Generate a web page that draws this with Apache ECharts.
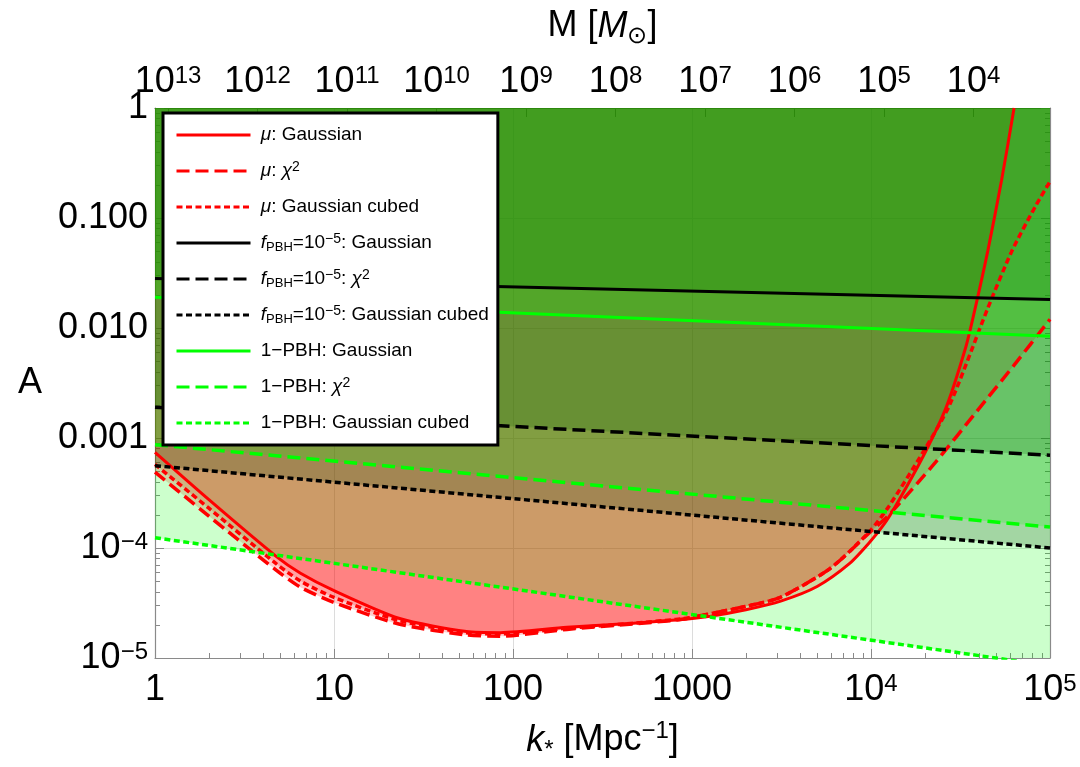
<!DOCTYPE html>
<html>
<head>
<meta charset="utf-8">
<script src="https://cdn.jsdelivr.net/npm/echarts@6/dist/echarts.min.js"></script>
<style>
  html, body { margin: 0; padding: 0; background: #fff; }
  #chart { width: 1080px; height: 767px; }
</style>
</head>
<body>
<div id="chart"></div>
<script>
const FONT = '"Liberation Sans", Arial, Helvetica, sans-serif'

// k_* [Mpc^-1] / A read off the figure
// mu distortion bounds
const muGaussK = [1, 2, 4.75, 6.5, 10, 23, 55, 85, 200, 470, 810, 1260, 2000, 3160, 5000, 7600, 9800, 11750, 13800, 19500, 26300, 33900, 37600, 44900, 53600, 63000]
const muGaussA = [7.4e-4, 2.75e-4, 8.4e-5, 5.9e-5, 4.1e-5, 2.3e-5, 1.74e-5, 1.7e-5, 1.9e-5, 2.07e-5, 2.21e-5, 2.4e-5, 2.75e-5, 3.31e-5, 4.47e-5, 7.24e-5, 1.12e-4, 1.62e-4, 2.45e-4, 6.76e-4, 1.9e-3, 6.76e-3, 0.0135, 0.050, 0.219, 1]
const muChi2K = [1, 2, 4.75, 6.5, 10, 23, 55, 85, 200, 470, 810, 1000, 2000, 3100, 5900, 9800, 12600, 22900, 38900, 63000, 100000]
const muChi2A = [4.9e-4, 1.95e-4, 6.3e-5, 4.4e-5, 3.2e-5, 2.04e-5, 1.62e-5, 1.58e-5, 1.82e-5, 2.04e-5, 2.21e-5, 2.34e-5, 2.95e-5, 3.55e-5, 6.5e-5, 1.38e-4, 2.0e-4, 6.0e-4, 1.74e-3, 4.6e-3, 0.012]
const muCubedK = [1, 2, 4.75, 6.5, 10, 23, 55, 85, 200, 470, 810, 1000, 2000, 3100, 5900, 9800, 12600, 19500, 27500, 44900, 61200, 83200, 100000]
const muCubedA = [5.75e-4, 2.3e-4, 7.2e-5, 5.0e-5, 3.55e-5, 2.2e-5, 1.7e-5, 1.66e-5, 1.86e-5, 2.07e-5, 2.24e-5, 2.34e-5, 2.95e-5, 3.55e-5, 6.5e-5, 1.41e-4, 2.4e-4, 7.4e-4, 2.0e-3, 0.0151, 0.050, 0.129, 0.214]

// power-law bounds, values at k = 1 and k = 1e5
const edgeK = [1, 1e5]
const fGaussA = [0.0282, 0.0182]
const fChi2A = [1.90e-3, 6.98e-4]
const fCubedA = [5.6e-4, 1.0e-4]
const pbhGaussA = [0.0190, 0.0084]
const pbhChi2A = [8.7e-4, 1.55e-4]
const pbhCubedA = [1.24e-4, 8.5e-6]

// tick labels (log10 of the value -> text)
const xTickText = ['1', '10', '100', '1000', '10{sup|4}', '10{sup|5}']
const yTickText = ['10{sup|−5}', '10{sup|−4}', '0.001', '0.010', '0.100', '1']
// top axis: M [M_sun], log10 M = massOffset - 2 log10 k
const massExponents = [13, 12, 11, 10, 9, 8, 7, 6, 5, 4]
const massOffset = 13.146

const RED = '#ff0000', BLACK = '#000000', GREEN = '#00ff00'
const SOLID = 'solid', DASHED = [13, 6], DOTTED = [6, 3.5]

const curves = [
  { name: 'mu_gauss', k: muGaussK, a: muGaussA, color: RED, dash: SOLID, label: '{it|μ}: Gaussian' },
  { name: 'mu_chi2', k: muChi2K, a: muChi2A, color: RED, dash: DASHED, label: '{it|μ}: {it|χ}{sup|2}' },
  { name: 'mu_cubed', k: muCubedK, a: muCubedA, color: RED, dash: DOTTED, label: '{it|μ}: Gaussian cubed' },
  { name: 'f_gauss', k: edgeK, a: fGaussA, color: BLACK, dash: SOLID, label: '{it|f}{sub|PBH}=10{sup|−5}: Gaussian' },
  { name: 'f_chi2', k: edgeK, a: fChi2A, color: BLACK, dash: DASHED, label: '{it|f}{sub|PBH}=10{sup|−5}: {it|χ}{sup|2}' },
  { name: 'f_cubed', k: edgeK, a: fCubedA, color: BLACK, dash: DOTTED, label: '{it|f}{sub|PBH}=10{sup|−5}: Gaussian cubed' },
  { name: 'pbh_gauss', k: edgeK, a: pbhGaussA, color: GREEN, dash: SOLID, label: '1−PBH: Gaussian' },
  { name: 'pbh_chi2', k: edgeK, a: pbhChi2A, color: GREEN, dash: DASHED, label: '1−PBH: {it|χ}{sup|2}' },
  { name: 'pbh_cubed', k: edgeK, a: pbhCubedA, color: GREEN, dash: DOTTED, label: '1−PBH: Gaussian cubed' }
]

function logPoints(ks, as) {
  return ks.map((k, i) => [Math.log10(k), Math.log10(as[i])])
}

function minorTicks(from, to) {
  let out = []
  for (let d = from; d < to; d++) {
    for (let m = 2; m <= 9; m++) out.push(d + Math.log10(m))
  }
  return out
}

const legendText = {}
curves.forEach(c => { legendText[c.name] = c.label })

// fills first (everything above each bound, 20% opacity), lines on top
let series = []
curves.forEach(c => {
  series.push({
    name: c.name + '_fill',
    type: 'line',
    data: logPoints(c.k, c.a),
    smooth: c.k.length > 2 ? 0.25 : false,
    symbol: 'none',
    silent: true,
    z: 1,
    lineStyle: { width: 0, opacity: 0 },
    areaStyle: { color: c.color, opacity: 0.2, origin: 'end' }
  })
})
curves.forEach(c => {
  series.push({
    name: c.name,
    type: 'line',
    data: logPoints(c.k, c.a),
    smooth: c.k.length > 2 ? 0.25 : false,
    symbol: 'none',
    z: 3,
    itemStyle: { color: c.color },
    lineStyle: { color: c.color, width: c.dash === SOLID ? 3 : 3.5, type: c.dash }
  })
})

const axisGrey = '#8a8a8a'
const tickRich = { sup: { fontSize: 24, lineHeight: 20, verticalAlign: 'top', fontFamily: FONT, color: '#000' } }

const options = {
  animation: false,
  backgroundColor: '#fff',
  grid: { left: 155, right: 30, top: 104, bottom: 107 },
  legend: {
    data: curves.map(c => c.name),
    orient: 'vertical',
    left: 163,
    top: 113,
    z: 10,
    selectedMode: false,
    backgroundColor: '#fff',
    borderColor: '#000',
    borderWidth: 3,
    borderRadius: 0,
    padding: [11, 9, 11, 12],
    itemWidth: 74,
    itemHeight: 14,
    itemGap: 14,
    itemStyle: { opacity: 0 },
    lineStyle: { width: 3 },
    formatter: name => ' ' + legendText[name],
    textStyle: {
      fontFamily: FONT, fontSize: 19, color: '#000', lineHeight: 22,
      rich: {
        it: { fontStyle: 'italic', fontFamily: FONT, fontSize: 19, color: '#000' },
        sup: { fontSize: 14, lineHeight: 14, verticalAlign: 'top', fontFamily: FONT, color: '#000' },
        sub: { fontSize: 13, lineHeight: 16, verticalAlign: 'bottom', fontFamily: FONT, color: '#000' }
      }
    }
  },
  xAxis: [
    {
      // k_* axis
      type: 'value', min: 0, max: 5, interval: 1, position: 'bottom',
      name: '{it|k}{sub|*} [Mpc{sup|−1}]',
      nameLocation: 'middle', nameGap: 61,
      nameTextStyle: {
        fontFamily: FONT, fontSize: 36, color: '#000', lineHeight: 43,
        rich: {
          it: { fontStyle: 'italic', fontFamily: FONT, fontSize: 36, color: '#000' },
          sub: { fontSize: 24, lineHeight: 20, verticalAlign: 'bottom', fontFamily: FONT, color: '#000' },
          sup: { fontSize: 24, lineHeight: 20, verticalAlign: 'top', fontFamily: FONT, color: '#000' }
        }
      },
      axisLine: { onZero: false, lineStyle: { color: axisGrey, width: 1.2 } },
      axisTick: { inside: true, length: 9, lineStyle: { color: axisGrey } },
      axisLabel: {
        fontFamily: FONT, fontSize: 36, color: '#000', margin: 14,
        formatter: v => xTickText[Math.round(v)], rich: tickRich
      },
      splitLine: { show: true, lineStyle: { color: '#dcdcdc', width: 1 } }
    },
    {
      // minor ticks of k_*
      type: 'value', min: 0, max: 5, interval: 1, position: 'bottom',
      axisLine: { show: false, onZero: false },
      axisTick: { inside: true, length: 5, customValues: minorTicks(0, 5), lineStyle: { color: axisGrey } },
      axisLabel: { show: false },
      splitLine: { show: false }
    },
    {
      // M axis on top
      type: 'value', min: 0, max: 5, position: 'top',
      name: 'M [{it|M}{sub|⊙}]',
      nameLocation: 'middle', nameGap: 60,
      nameTextStyle: {
        fontFamily: FONT, fontSize: 36, color: '#000', lineHeight: 43,
        rich: {
          it: { fontStyle: 'italic', fontFamily: FONT, fontSize: 36, color: '#000' },
          sub: { fontSize: 24, lineHeight: 20, verticalAlign: 'bottom', fontFamily: FONT, color: '#000' }
        }
      },
      axisLine: { onZero: false, lineStyle: { color: '#666', width: 1.2 } },
      axisTick: {
        inside: true, length: 9, lineStyle: { color: '#666' },
        customValues: massExponents.map(n => (massOffset - n) / 2)
      },
      axisLabel: {
        fontFamily: FONT, fontSize: 36, color: '#000', margin: 8,
        customValues: massExponents.map(n => (massOffset - n) / 2),
        formatter: v => '10{sup|' + Math.round(massOffset - 2 * v) + '}',
        rich: tickRich
      },
      splitLine: { show: false }
    }
  ],
  yAxis: [
    {
      type: 'value', min: -5, max: 0, interval: 1, position: 'left',
      name: 'A', nameLocation: 'middle', nameRotate: 0, nameGap: 113,
      nameTextStyle: { fontFamily: FONT, fontSize: 36, color: '#000' },
      axisLine: { onZero: false, lineStyle: { color: axisGrey, width: 1.2 } },
      axisTick: { inside: true, length: 9, lineStyle: { color: axisGrey } },
      axisLabel: {
        fontFamily: FONT, fontSize: 36, color: '#000', margin: 7,
        formatter: v => yTickText[Math.round(v) + 5], rich: tickRich
      },
      splitLine: { show: true, lineStyle: { color: '#dcdcdc', width: 1 } }
    },
    {
      type: 'value', min: -5, max: 0, interval: 1, position: 'left',
      axisLine: { show: false, onZero: false },
      axisTick: { inside: true, length: 5, customValues: minorTicks(-5, 0), lineStyle: { color: axisGrey } },
      axisLabel: { show: false },
      splitLine: { show: false }
    },
    {
      type: 'value', min: -5, max: 0, interval: 1, position: 'right',
      axisLine: { show: true, onZero: false, lineStyle: { color: axisGrey, width: 1.2 } },
      axisTick: { inside: true, length: 9, lineStyle: { color: axisGrey } },
      axisLabel: { show: false },
      splitLine: { show: false }
    },
    {
      type: 'value', min: -5, max: 0, interval: 1, position: 'right',
      axisLine: { show: false, onZero: false },
      axisTick: { inside: true, length: 5, customValues: minorTicks(-5, 0), lineStyle: { color: axisGrey } },
      axisLabel: { show: false },
      splitLine: { show: false }
    }
  ],
  series: series
}

const chart = echarts.init(document.getElementById('chart'))
chart.setOption(options)
</script>
</body>
</html>
